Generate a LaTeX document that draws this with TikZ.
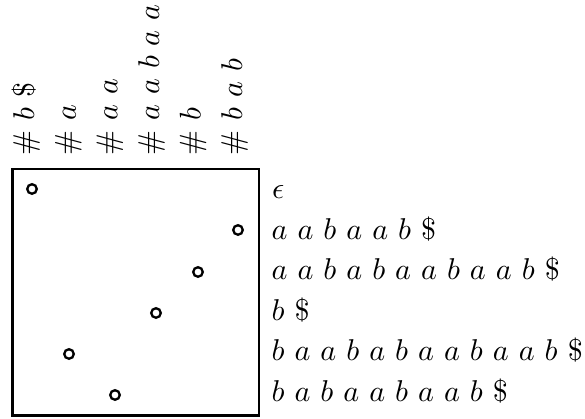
\documentclass[tikz,border=0pt]{standalone}
\begin{document}
\begin{tikzpicture}[x=0.3456pt,y=-0.3456pt,
  dot/.style={circle,draw,line width=0.8pt,minimum size=3.3pt,inner sep=0pt},
  rowlab/.style={anchor=base west,inner sep=0pt,scale=1.04},
  collab/.style={anchor=base west,inner sep=0pt,rotate=90,scale=1.035}]
\useasboundingbox (0,0) rectangle (585,419);
\draw[line width=0.8pt] (12.5,169) rectangle (259,415.5);
% circles
\node[dot] (c1) at (32,189) {};
\node[dot] (c2) at (238,230) {};
\node[dot] (c3) at (198,272) {};
\node[dot] (c4) at (156,313) {};
\node[dot] (c5) at (69,354) {};
\node[dot] (c6) at (115,395) {};
% row labels
\node[rowlab] (r1) at (271.5,199) {$\epsilon$};
\node[rowlab] (r2) at (271,239.5) {$a\ a\ b\ a\ a\ b\ \$$};
\node[rowlab] (r3) at (271,280) {$a\ a\ b\ a\ b\ a\ a\ b\ a\ a\ b\ \$$};
\node[rowlab] (r4) at (271,320.5) {$b\ \$$};
\node[rowlab] (r5) at (271,361) {$b\ a\ a\ b\ a\ b\ a\ a\ b\ a\ a\ b\ \$$};
\node[rowlab] (r6) at (271,401.5) {$b\ a\ b\ a\ a\ b\ a\ a\ b\ \$$};
% column labels
\node[collab] (k1) at (34.2,156) {$\#\ b\ \$$};
\node[collab] (k2) at (75.8,156) {$\#\ a$};
\node[collab] (k3) at (117.4,156) {$\#\ a\ a$};
\node[collab] (k4) at (159,156) {$\#\ a\ a\ b\ a\ a$};
\node[collab] (k5) at (200.6,156) {$\#\ b$};
\node[collab] (k6) at (242.2,156) {$\#\ b\ a\ b$};
\end{tikzpicture}
\end{document}
